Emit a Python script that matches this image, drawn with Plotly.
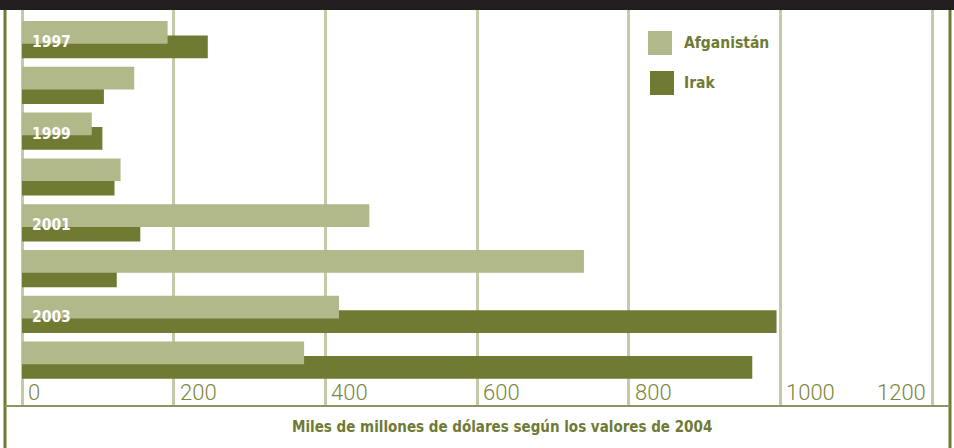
import plotly.graph_objects as go

# values (miles de millones de dólares, valores de 2004)
years = [1997, 1998, 1999, 2000, 2001, 2002, 2003, 2004]
afganistan = [192, 148, 92, 130, 458, 741, 418, 372]
irak = [245, 108, 106, 122, 156, 125, 995, 963]
year_labels = [1997, 1999, 2001, 2003]
x_ticks = [0, 200, 400, 600, 800, 1000, 1200]
series_names = ["Afganistán", "Irak"]
axis_title = "Miles de millones de dólares según los valores de 2004"

AFG = "#b1b88a"
IRAK = "#717a33"
GRID = "#c4c9a6"
BORDER = "#6f7a35"
TEXT = "#6f7a35"
NARROW = "Liberation Sans Narrow, Arial Narrow, DejaVu Sans Condensed, Roboto Condensed, Roboto, sans-serif"

W, H = 954, 448
L, R, T, B = 7, 6, 10, 42
PW, PH = W - L - R, H - T - B


# pixel -> paper helpers for the frame decoration
def px(x):
    return (x - L) / PW


def py(y):
    return (H - B - y) / PH


fig = go.Figure()

# Irak first so the lighter Afganistán bars sit on top of it
fig.add_trace(go.Bar(y=years, x=irak, orientation="h", name=series_names[1],
                     offset=-0.09, width=0.496,
                     marker=dict(color=IRAK, line=dict(width=0))))
fig.add_trace(go.Bar(y=years, x=afganistan, orientation="h", name=series_names[0],
                     offset=-0.406, width=0.496,
                     marker=dict(color=AFG, line=dict(width=0))))

annotations = []
for yr in year_labels:
    annotations.append(dict(x=0, y=yr, xref="x", yref="y", text=str(yr),
                            xanchor="left", yanchor="middle", xshift=8, yshift=-2.5,
                            showarrow=False,
                            font=dict(family=NARROW, size=15.5, color="white", weight="bold")))

for i, t in enumerate(x_ticks):
    last = i == len(x_ticks) - 1
    annotations.append(dict(x=t, y=py(392), xref="x", yref="paper", text=str(t),
                            xanchor="right" if last else "left", yanchor="middle",
                            xshift=-4 if last else 4, showarrow=False,
                            font=dict(family="Roboto", size=22, color="#7b8641", weight=300)))

annotations.append(dict(x=px(502), y=py(427), xref="paper", yref="paper", text=axis_title,
                        xanchor="center", yanchor="middle", showarrow=False,
                        font=dict(family=NARROW, size=15, color=TEXT, weight="bold")))

# legend, drawn by hand
legend_rows = [(series_names[0], AFG, 648, 43), (series_names[1], IRAK, 650, 83)]
shapes = []
for name, col, sx, cy in legend_rows:
    shapes.append(dict(type="rect", xref="paper", yref="paper",
                       x0=px(sx), x1=px(sx + 24), y0=py(cy - 12), y1=py(cy + 12),
                       fillcolor=col, line=dict(width=0)))
    annotations.append(dict(x=px(682), y=py(cy), xref="paper", yref="paper", text=name,
                            xanchor="left", yanchor="middle", showarrow=False,
                            font=dict(family=NARROW, size=15.5, color=IRAK, weight="bold")))

# frame: black title band, side borders, bottom rule
shapes += [
    dict(type="rect", xref="paper", yref="paper", x0=px(0), x1=px(W), y0=py(10), y1=py(0),
         fillcolor="#231f20", line=dict(width=0)),
    dict(type="line", xref="paper", yref="paper", x0=px(5), x1=px(5), y0=py(10), y1=py(H),
         line=dict(color=BORDER, width=3)),
    dict(type="line", xref="paper", yref="paper", x0=px(950), x1=px(950), y0=py(10), y1=py(H),
         line=dict(color=BORDER, width=3)),
    dict(type="line", xref="paper", yref="paper", x0=px(5), x1=px(950), y0=py(406), y1=py(406),
         line=dict(color="#8d9660", width=2)),
]

scale = 910 / 1200  # px per unit: 0 at x=22, 1200 at x=932
fig.update_layout(
    width=W, height=H,
    margin=dict(l=L, r=R, t=T, b=B, pad=0),
    paper_bgcolor="white", plot_bgcolor="white",
    barmode="overlay", showlegend=False,
    annotations=annotations, shapes=shapes,
    xaxis=dict(range=[-(22 - L) / scale, (W - R - 22) / scale],
               tickvals=x_ticks, showticklabels=False, ticks="",
               showgrid=True, gridcolor=GRID, gridwidth=3,
               zeroline=True, zerolinecolor=GRID, zerolinewidth=3,
               showline=False, fixedrange=True),
    yaxis=dict(range=[2005.0, 1996.354], showgrid=False, zeroline=False,
               showticklabels=False, ticks="", showline=False, fixedrange=True),
)

# the page body has a default 8px margin; drop it so the chart sits at 0,0
fig.write_html("out.html", config={"displayModeBar": False},
               post_script="document.body.style.margin='0';")
